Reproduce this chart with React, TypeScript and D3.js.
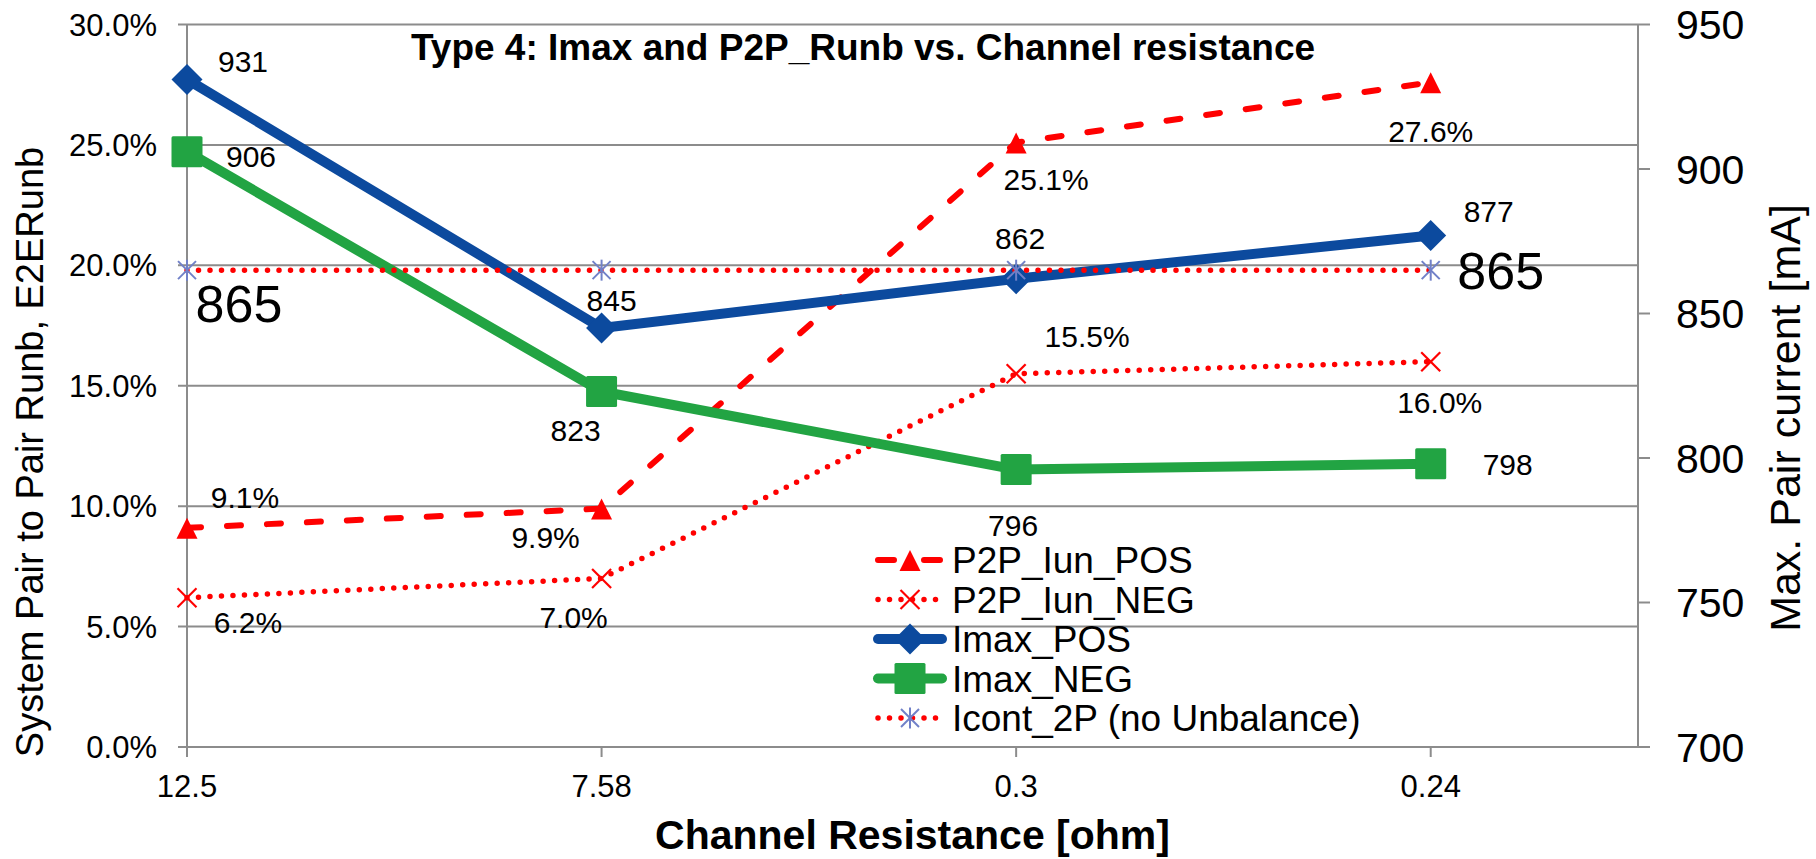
import React from "react";
import * as d3 from "d3";

const categories = ["12.5", "7.58", "0.3", "0.24"];
const p2pIunPos = [0.091, 0.099, 0.251, 0.276];
const p2pIunNeg = [0.062, 0.07, 0.155, 0.16];
const imaxPos = [931, 845, 862, 877];
const imaxNeg = [906, 823, 796, 798];
const icont2P = [865, 865, 865, 865];
const leftTicks = [0, 0.05, 0.1, 0.15, 0.2, 0.25, 0.3];
const rightTicks = [700, 750, 800, 850, 900, 950];
const seriesNames = ["P2P_Iun_POS", "P2P_Iun_NEG", "Imax_POS", "Imax_NEG", "Icont_2P (no Unbalance)"];

// label placement (offsets of label centre from its point), not data
const offPos = [[58, -31], [-56, 29], [30, 37], [0, 49]];
const offNeg = [[61, 25], [-28, 39], [71, -37], [9, 41]];
const offImaxPos = [[56, -18], [10, -28], [4, -41], [58, -24]];
const offImaxNeg = [[64, 5], [-26, 39], [-3, 56], [77, 0]];
const offIcont: (number[] | null)[] = [[52, 33], null, null, [70, 0]];

const FONT = "Liberation Sans, Arial, sans-serif";
const RED = "#ff0000";
const BLUE = "#0c4a9e";
const GREEN = "#22a443";
const STAR = "#7080c8";
const GRID = "#8c8c8c";

const L = 187, R = 1638, T = 24.5, B = 747;

export default function App() {
  const x = d3.scaleLinear().domain([0, 3.5]).range([L, R]);
  const yL = d3.scaleLinear().domain([0, 0.3]).range([B, T]);
  const yR = d3.scaleLinear().domain([700, 950]).range([B, T]);
  const idx = categories.map((_, i) => i);

  const lineL = d3.line<number>().x((_, i) => x(i)).y((d) => yL(d));
  const lineR = d3.line<number>().x((_, i) => x(i)).y((d) => yR(d));
  const pctFmt = d3.format(".1%");

  const text = (
    key: string, cx: number, cy: number, s: string, size: number,
    anchor: string = "middle", weight: string = "normal"
  ) => (
    <text key={key} x={cx} y={cy + 0.358 * size} fontSize={size} fontFamily={FONT}
      textAnchor={anchor} fontWeight={weight} fill="#000">{s}</text>
  );

  const marker = (kind: string, cx: number, cy: number, key: string) => {
    if (kind === "tri")
      return <path key={key} d={`M${cx},${cy - 10} L${cx + 10.5},${cy + 11} L${cx - 10.5},${cy + 11} Z`} fill={RED} />;
    if (kind === "x")
      return (
        <g key={key} stroke={RED} strokeWidth={2.2}>
          <line x1={cx - 9.5} y1={cy - 9.5} x2={cx + 9.5} y2={cy + 9.5} />
          <line x1={cx - 9.5} y1={cy + 9.5} x2={cx + 9.5} y2={cy - 9.5} />
        </g>
      );
    if (kind === "dia")
      return <path key={key} d={`M${cx},${cy - 15.5} L${cx + 15.5},${cy} L${cx},${cy + 15.5} L${cx - 15.5},${cy} Z`} fill={BLUE} />;
    if (kind === "sq")
      return <rect key={key} x={cx - 15.5} y={cy - 15.5} width={31} height={31} rx={1.5} fill={GREEN} />;
    return (
      <g key={key} stroke={STAR} strokeWidth={2}>
        <line x1={cx - 9} y1={cy - 9} x2={cx + 9} y2={cy + 9} />
        <line x1={cx - 9} y1={cy + 9} x2={cx + 9} y2={cy - 9} />
        <line x1={cx} y1={cy - 10.5} x2={cx} y2={cy + 10.5} />
      </g>
    );
  };

  const legendStyles = [
    { stroke: RED, w: 6, dash: "16 30", cap: "round", m: "tri" },
    { stroke: RED, w: 5.5, dash: "0 11.5", cap: "round", m: "x" },
    { stroke: BLUE, w: 10, dash: undefined, cap: "round", m: "dia" },
    { stroke: GREEN, w: 10, dash: undefined, cap: "round", m: "sq" },
    { stroke: RED, w: 5.5, dash: "0 11.5", cap: "round", m: "star" },
  ];

  return (
    <svg width={1816} height={859} style={{ position: "absolute", left: 0, top: 0, display: "block", background: "#fff" }}>
      <rect x={0} y={0} width={1816} height={859} fill="#fff" />
      {/* gridlines */}
      {leftTicks.map((t) => (
        <line key={"g" + t} x1={L - 9} x2={R} y1={yL(t)} y2={yL(t)} stroke={GRID} strokeWidth={2} />
      ))}
      {/* axes */}
      <line x1={L} x2={L} y1={T} y2={B + 10} stroke={GRID} strokeWidth={2} />
      <line x1={R} x2={R} y1={T} y2={B} stroke={GRID} strokeWidth={2} />
      {rightTicks.map((t) => (
        <line key={"rt" + t} x1={R} x2={R + 12} y1={yR(t)} y2={yR(t)} stroke={GRID} strokeWidth={2} />
      ))}
      {idx.map((i) => (
        <line key={"xt" + i} x1={x(i)} x2={x(i)} y1={B} y2={B + 10} stroke={GRID} strokeWidth={2} />
      ))}
      {/* tick labels */}
      {leftTicks.map((t) => text("lt" + t, 157, yL(t), pctFmt(t), 31, "end"))}
      {rightTicks.map((t) => text("rl" + t, 1676, yR(t), String(t), 41, "start"))}
      {categories.map((c, i) => (
        <text key={"xl" + i} x={x(i)} y={797} fontSize={31} fontFamily={FONT} textAnchor="middle">{c}</text>
      ))}
      {/* titles */}
      <text x={863} y={60} fontSize={37} fontWeight="bold" fontFamily={FONT} textAnchor="middle">
        Type 4: Imax and P2P_Runb vs. Channel resistance
      </text>
      <text x={(L + R) / 2} y={849} fontSize={41} fontWeight="bold" fontFamily={FONT} textAnchor="middle">
        Channel Resistance [ohm]
      </text>
      <text transform="translate(43,452) rotate(-90)" fontSize={38} fontFamily={FONT} textAnchor="middle">
        System Pair to Pair Runb, E2ERunb
      </text>
      <text transform="translate(1800,418) rotate(-90)" fontSize={43} fontFamily={FONT} textAnchor="middle">
        Max. Pair current [mA]
      </text>

      {/* series */}
      <path d={lineL(p2pIunPos) || ""} fill="none" stroke={RED} strokeWidth={6} strokeDasharray="14 26" strokeLinecap="round" />
      {p2pIunPos.map((v, i) => marker("tri", x(i), yL(v), "mp" + i))}
      <path d={lineL(p2pIunNeg) || ""} fill="none" stroke={RED} strokeWidth={5.5} strokeDasharray="0 11.5" strokeLinecap="round" />
      {p2pIunNeg.map((v, i) => marker("x", x(i), yL(v), "mn" + i))}
      <path d={lineR(imaxPos) || ""} fill="none" stroke={BLUE} strokeWidth={10} strokeLinejoin="round" strokeLinecap="round" />
      {imaxPos.map((v, i) => marker("dia", x(i), yR(v), "ip" + i))}
      <path d={lineR(imaxNeg) || ""} fill="none" stroke={GREEN} strokeWidth={10} strokeLinejoin="round" strokeLinecap="round" />
      {imaxNeg.map((v, i) => marker("sq", x(i), yR(v), "in" + i))}
      <path d={lineR(icont2P) || ""} fill="none" stroke={RED} strokeWidth={5.5} strokeDasharray="0 11.5" strokeLinecap="round" />
      {icont2P.map((v, i) => marker("star", x(i), yR(v), "ic" + i))}

      {/* data labels */}
      {p2pIunPos.map((v, i) => text("lp" + i, x(i) + offPos[i][0], yL(v) + offPos[i][1], pctFmt(v), 30))}
      {p2pIunNeg.map((v, i) => text("ln" + i, x(i) + offNeg[i][0], yL(v) + offNeg[i][1], pctFmt(v), 30))}
      {imaxPos.map((v, i) => text("lip" + i, x(i) + offImaxPos[i][0], yR(v) + offImaxPos[i][1], String(v), 30))}
      {imaxNeg.map((v, i) => text("lin" + i, x(i) + offImaxNeg[i][0], yR(v) + offImaxNeg[i][1], String(v), 30))}
      {icont2P.map((v, i) => {
        const o = offIcont[i];
        return o ? text("lic" + i, x(i) + o[0], yR(v) + o[1], String(v), 52) : null;
      })}

      {/* legend */}
      {seriesNames.map((n, k) => {
        const st = legendStyles[k];
        const cy = 560 + k * 39.5;
        return (
          <g key={"lg" + k}>
            <line x1={878} x2={942} y1={cy} y2={cy} stroke={st.stroke} strokeWidth={st.w}
              strokeDasharray={st.dash} strokeLinecap={st.cap as any} />
            {marker(st.m, 910, cy, "lm" + k)}
            {text("lt" + k, 952, cy, n, 37, "start")}
          </g>
        );
      })}
    </svg>
  );
}
